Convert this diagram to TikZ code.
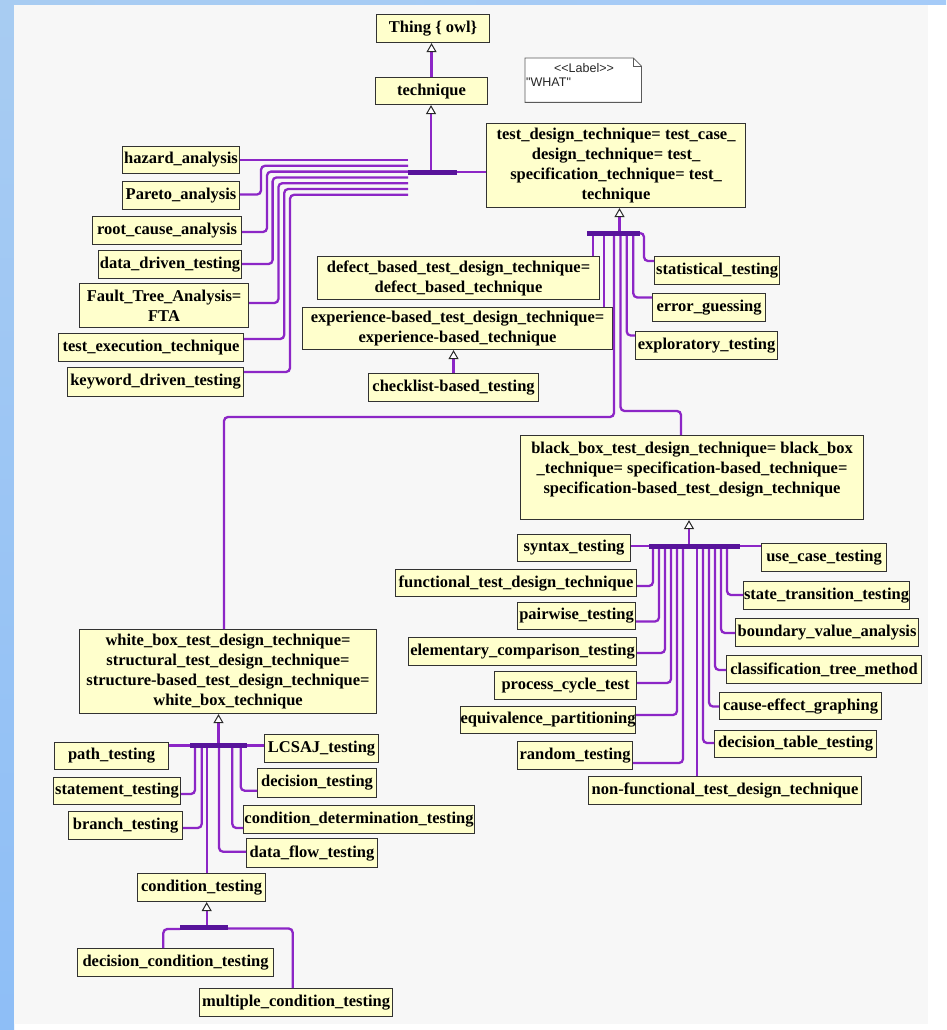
\documentclass[tikz,border=0pt]{standalone}
\usepackage{fontspec}
\setmainfont{Liberation Serif}
\newfontfamily\notefont{Liberation Sans}
\usetikzlibrary{arrows.meta}
\definecolor{boxfill}{RGB}{255,255,204}
\definecolor{boxline}{RGB}{50,50,50}
\definecolor{linecol}{RGB}{140,38,198}
\definecolor{barcol}{RGB}{88,20,155}
\definecolor{tipcol}{RGB}{40,40,40}
\definecolor{panel}{RGB}{247,247,247}
\definecolor{stripA}{RGB}{168,204,242}
\definecolor{stripB}{RGB}{142,190,246}
\definecolor{notecol}{RGB}{90,90,90}
% class box given by its corners: name, x1, y1, x2, y2, label
\newcommand\umlbox[6]{\node[box, minimum width={(#4-#2)*1pt}, minimum height={(#5-#3)*1pt}] (#1) at (#2,#3) {#6};}
\begin{document}
\begin{tikzpicture}[x=1pt,y=-1pt,
  box/.style={draw=boxline, fill=boxfill, line width=1.1pt, anchor=north west,
    inner sep=0pt, align=center, font=\bfseries\fontsize{16.5}{20}\selectfont},
  conn/.style={draw=linecol, line width=2.3pt, rounded corners=4pt},
  busbar/.style={draw=barcol, line width=5pt},
  isa/.style={-{Triangle[open,length=9pt,width=10pt,line width=1pt,color=tipcol,fill=white]}},
  notetext/.style={font=\notefont\fontsize{12.5}{14}\selectfont, inner sep=0pt, text=black!85}]
\useasboundingbox (0,0) rectangle (946,1030);
% background
\fill[white] (0,0) rectangle (946,1030);
\shade[top color=stripA, bottom color=stripB] (0,0) rectangle (14,1030);
\shade[left color=stripA, right color=stripB!80!white] (14,0) rectangle (946,5);
\fill[panel] (14,5) rectangle (928,1024);

% classes
\umlbox{thing}{376}{14}{489}{42}{Thing \{ owl\}}
\umlbox{tech}{375}{77}{487}{104}{technique}
\umlbox{tdt}{486}{123}{745}{207}{test\_design\_technique= test\_case\_\\design\_technique= test\_\\specification\_technique= test\_\\technique}
\umlbox{haz}{122}{146}{239}{173}{hazard\_analysis}
\umlbox{par}{122}{181}{239}{209}{Pareto\_analysis}
\umlbox{rca}{92}{216}{241}{244}{root\_cause\_analysis}
\umlbox{ddt}{98}{250}{241}{278}{data\_driven\_testing}
\umlbox{fta}{79}{283}{248}{327}{Fault\_Tree\_Analysis=\\FTA}
\umlbox{tet}{58}{333}{243}{361}{test\_execution\_technique}
\umlbox{kdt}{67}{367}{243}{396}{keyword\_driven\_testing}
\umlbox{dbt}{317}{256}{599}{299}{defect\_based\_test\_design\_technique=\\defect\_based\_technique}
\umlbox{ebt}{302}{307}{612}{349}{experience-based\_test\_design\_technique=\\experience-based\_technique}
\umlbox{clb}{368}{373}{538}{401}{checklist-based\_testing}
\umlbox{stat}{654}{256}{779}{284}{statistical\_testing}
\umlbox{err}{652}{293}{765}{321}{error\_guessing}
\umlbox{expl}{635}{331}{777}{359}{exploratory\_testing}
\umlbox{bbt}{520}{435}{863}{519}{black\_box\_test\_design\_technique= black\_box\\\_technique= specification-based\_technique=\\specification-based\_test\_design\_technique\\\mbox{}}
\umlbox{syn}{517}{534}{630}{561}{syntax\_testing}
\umlbox{ftd}{395}{569}{636}{596}{functional\_test\_design\_technique}
\umlbox{pw}{517}{602}{635}{629}{pairwise\_testing}
\umlbox{ect}{408}{637}{636}{665}{elementary\_comparison\_testing}
\umlbox{pct}{494}{671}{636}{699}{process\_cycle\_test}
\umlbox{eqp}{460}{706}{635}{733}{equivalence\_partitioning}
\umlbox{rnd}{517}{741}{632}{769}{random\_testing}
\umlbox{nft}{588}{776}{861}{804}{non-functional\_test\_design\_technique}
\umlbox{uct}{761}{543}{886}{571}{use\_case\_testing}
\umlbox{stt}{743}{581}{909}{609}{state\_transition\_testing}
\umlbox{bva}{735}{618}{918}{646}{boundary\_value\_analysis}
\umlbox{ctm}{726}{655}{921}{683}{classification\_tree\_method}
\umlbox{ceg}{719}{692}{881}{719}{cause-effect\_graphing}
\umlbox{dtt}{714}{730}{876}{757}{decision\_table\_testing}
\umlbox{wbt}{79}{629}{376}{713}{white\_box\_test\_design\_technique=\\structural\_test\_design\_technique=\\structure-based\_test\_design\_technique=\\white\_box\_technique}
\umlbox{pth}{54}{742}{168}{769}{path\_testing}
\umlbox{stm}{53}{777}{180}{804}{statement\_testing}
\umlbox{brn}{68}{811}{182}{839}{branch\_testing}
\umlbox{cnd}{137}{873}{265}{901}{condition\_testing}
\umlbox{lcs}{264}{734}{378}{762}{LCSAJ\_testing}
\umlbox{dct}{257}{768}{376}{797}{decision\_testing}
\umlbox{cdt}{243}{805}{474}{833}{condition\_determination\_testing}
\umlbox{dft}{246}{838}{377}{867}{data\_flow\_testing}
\umlbox{dcd}{77}{948}{273}{976}{decision\_condition\_testing}
\umlbox{mct}{199}{988}{392}{1016}{multiple\_condition\_testing}

% label note with folded corner
\node[minimum width=116pt, minimum height=44pt, anchor=north west, inner sep=0pt] (note) at (525,58) {};
\draw[notecol, line width=0.8pt, fill=white] (note.north west) -- ([xshift=-8pt]note.north east)
  -- ([yshift=-8pt]note.north east) -- (note.south east) -- (note.south west) -- cycle;
\draw[notecol, line width=0.6pt] ([xshift=-8pt]note.north east) -- ([xshift=-8pt,yshift=-8pt]note.north east)
  -- ([yshift=-8pt]note.north east);
\node[notetext] (notehead) at (584,68.5) {<\kern0pt<Label>\kern0pt>};
\node[notetext, anchor=west] (notebody) at (526,82) {"WHAT"};

% technique -> Thing
\draw[conn,isa] (tech.north) -- (thing.south -| tech.north);

% subclasses of technique
\coordinate (b1L) at (408,172);
\coordinate (b1R) at (457,172);
\coordinate (b1A) at (431,172);
\draw[conn,isa] (b1A) -- (tech.south -| b1A);
\draw[conn] (b1R) -- (tdt.west |- b1R);
\draw[conn] (haz.east |- 0,160) -- (b1L |- 0,160);
\draw[conn] (par.east |- 0,194.5) -| (261,165.8) -- (b1L |- 0,165.8);
\draw[conn] (rca.east |- 0,232) -| (267,171.6) -- (b1L |- 0,171.6);
\draw[conn] (ddt.east |- 0,264) -| (272.6,177.4) -- (b1L |- 0,177.4);
\draw[conn] (fta.east |- 0,303) -| (278.4,183.2) -- (b1L |- 0,183.2);
\draw[conn] (tet.east |- 0,339) -| (284.2,189) -- (b1L |- 0,189);
\draw[conn] (kdt.east |- 0,372) -| (290,194.8) -- (b1L |- 0,194.8);
\draw[busbar] (b1L) -- (b1R);

% subclasses of test_design_technique
\coordinate (b2L) at (587,233);
\coordinate (b2R) at (640,233);
\coordinate (b2A) at (619.5,233);
\draw[conn,isa] (b2A) -- (tdt.south -| b2A);
\draw[conn] (b2L -| 593,0) -- (dbt.north -| 593,0);
\draw[conn] (b2L -| 604,0) -- (ebt.north -| 604,0);
\draw[conn,isa] (clb.north) -- (ebt.south -| clb.north);
\draw[conn] (b2R) -| (644,261) -- (stat.west |- 0,261);
\draw[conn] (b2L -| 633.3,0) |- (err.west |- 0,297.5);
\draw[conn] (b2L -| 626.7,0) |- (expl.west |- 0,335.5);
\draw[conn] (b2L -| 614,0) |- (224,417) -- (wbt.north -| 224,0);
\draw[conn] (b2L -| 620.5,0) |- (681,411) -- (bbt.north -| 681,0);
\draw[busbar] (b2L) -- (b2R);

% subclasses of black_box_test_design_technique
\coordinate (b3L) at (649,546);
\coordinate (b3R) at (740,546);
\coordinate (b3A) at (689,546);
\draw[conn,isa] (b3A) -- (bbt.south -| b3A);
\draw[conn] (syn.east |- b3L) -- (b3L);
\draw[conn] (b3R) -- (uct.west |- b3R);
\draw[conn] (b3L -| 653,0) |- (ftd.east |- 0,586);
\draw[conn] (b3L -| 659,0) |- (pw.east |- 0,621.5);
\draw[conn] (b3L -| 665,0) |- (ect.east |- 0,653);
\draw[conn] (b3L -| 671,0) |- (pct.east |- 0,683);
\draw[conn] (b3L -| 677,0) |- (eqp.east |- 0,715);
\draw[conn] (b3L -| 683,0) |- (rnd.east |- 0,763);
\draw[conn] (b3L -| 697,0) -- (nft.north -| 697,0);
\draw[conn] (b3L -| 703,0) |- (dtt.west |- 0,743);
\draw[conn] (b3L -| 709,0) |- (ceg.west |- 0,706.5);
\draw[conn] (b3L -| 715,0) |- (ctm.west |- 0,670);
\draw[conn] (b3L -| 721,0) |- (bva.west |- 0,633);
\draw[conn] (b3L -| 727,0) |- (stt.west |- 0,595);
\draw[busbar] (b3L) -- (b3R);

% subclasses of white_box_test_design_technique
\coordinate (b4L) at (190,745.5);
\coordinate (b4R) at (247,745.5);
\coordinate (b4A) at (218.5,745.5);
\draw[conn,isa] (b4A) -- (wbt.south -| b4A);
\draw[conn] (pth.east |- b4L) -- (b4L);
\draw[conn] (b4R) -- (lcs.west |- b4R);
\draw[conn] (b4L -| 195,0) |- (stm.east |- 0,794);
\draw[conn] (b4L -| 201.7,0) |- (brn.east |- 0,828);
\draw[conn] (b4L -| 207.3,0) -- (cnd.north -| 207.3,0);
\draw[conn] (b4L -| 219,0) |- (dft.west |- 0,851.7);
\draw[conn] (b4L -| 232.3,0) |- (cdt.west |- 0,828);
\draw[conn] (b4L -| 240.7,0) |- (dct.west |- 0,790.7);
\draw[busbar] (b4L) -- (b4R);

% subclasses of condition_testing
\coordinate (b5L) at (180,927);
\coordinate (b5R) at (228,927);
\coordinate (b5A) at (206.7,927);
\draw[conn,isa] (b5A) -- (cnd.south -| b5A);
\draw[conn] (b5L |- 0,929) -| (dcd.north -| 163.3,0);
\draw[conn] (b5R |- 0,928.5) -| (mct.north -| 292.7,0);
\draw[busbar] (b5L) -- (b5R);
\end{tikzpicture}
\end{document}
